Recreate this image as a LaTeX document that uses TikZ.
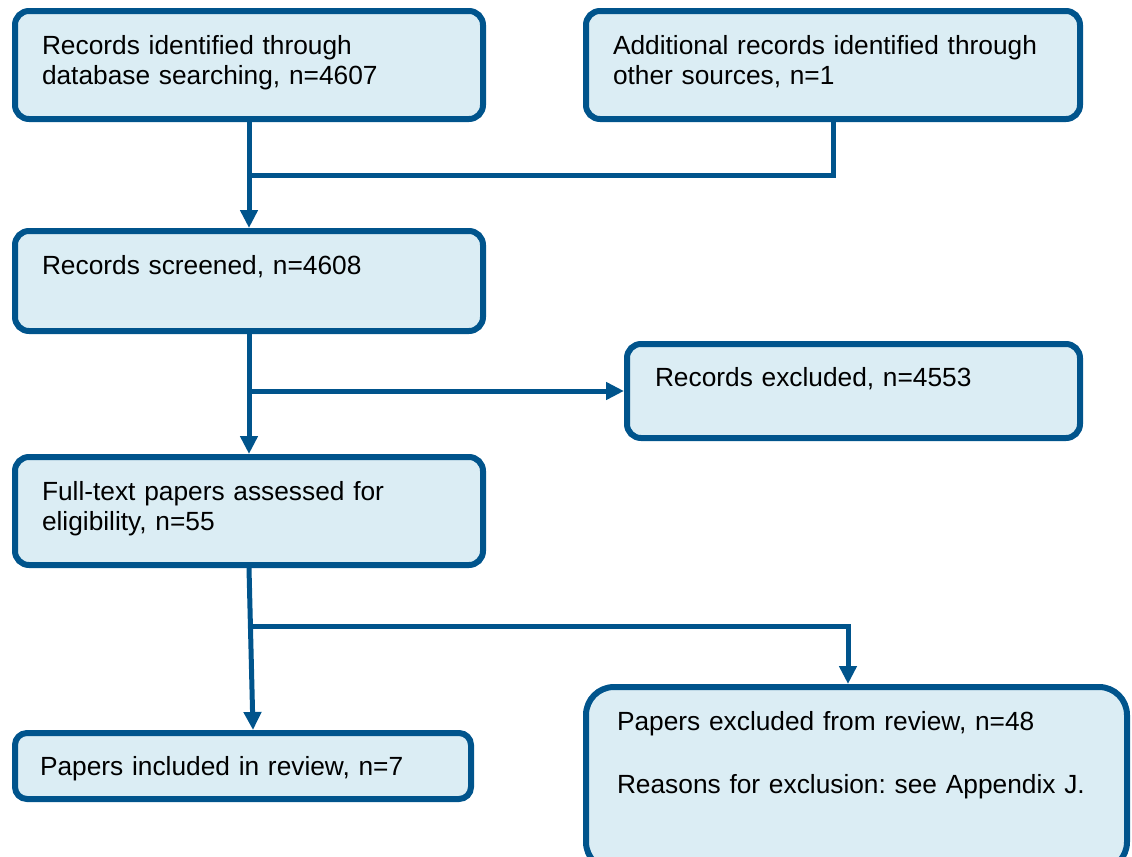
\documentclass[tikz,border=0pt]{standalone}
\usepackage{fontspec}
\setmainfont{Liberation Sans}
\usetikzlibrary{arrows.meta}
\definecolor{boxline}{RGB}{0,84,140}
\definecolor{boxfill}{RGB}{219,237,244}
\frenchspacing

\begin{document}
\begin{tikzpicture}[
	x=0.5pt,y=-0.5pt,
	>={Triangle[length=9pt,width=8.5pt]},
	line join=miter,
	flowbox/.style={draw=boxline,fill=boxfill,line width=3pt,anchor=north west,
		align=left,inner ysep=0pt,inner xsep=13.5pt,text height=21.5pt,
		rounded corners=7pt,font=\fontsize{13.15pt}{15pt}\selectfont},
	link/.style={draw=boxline,line width=2.5pt}
	]
	\useasboundingbox (0,0) rectangle (1132,857);
	\clip (0,0) rectangle (1132,857);
	% boxes
	\node[flowbox,text width=207pt,text depth=32.5pt] (ident) at (12,8)
		{Records identified through\\database searching, n=4607};
	\node[flowbox,text width=220pt,text depth=32.5pt] (other) at (583,8)
		{Additional records identified through\\other sources, n=1};
	\node[flowbox,text width=207pt,text depth=28.5pt] (screen) at (12,228)
		{Records screened, n=4608};
	\node[flowbox,inner xsep=14pt,text width=198.5pt,text height=21pt,text depth=26pt] (recex) at (624,341)
		{Records excluded, n=4553};
	\node[flowbox,text width=207pt,text depth=32.5pt] (full) at (12,454)
		{Full-text papers assessed for\\eligibility, n=55};
	\node[flowbox,inner xsep=12.5pt,text width=203pt,text height=21pt,text depth=12pt,rounded corners=6pt] (incl) at (12,730)
		{Papers included in review, n=7};
	\node[flowbox,inner xsep=15.5pt,text width=239.5pt,text depth=70pt,rounded corners=14pt] (papex) at (583,684)
		{Papers excluded from review, n=48\\[16.5pt]Reasons for exclusion: see Appendix J.};
	% connectors
	\coordinate (merge) at (249,175);
	\coordinate (split) at (250,626);
	\begin{scope}[link,->]
		\draw (ident.south) -- (screen.north);
		\draw (screen.south) -- (full.north);
		\draw (screen.south |- recex.west) -- (recex.west);
		\draw (full.south) -- ([xshift=5pt]incl.north);
		\draw (split) -| ([xshift=-4.25pt]papex.north);
	\end{scope}
	\draw[link] (other.south) |- (merge);
\end{tikzpicture}
\end{document}
